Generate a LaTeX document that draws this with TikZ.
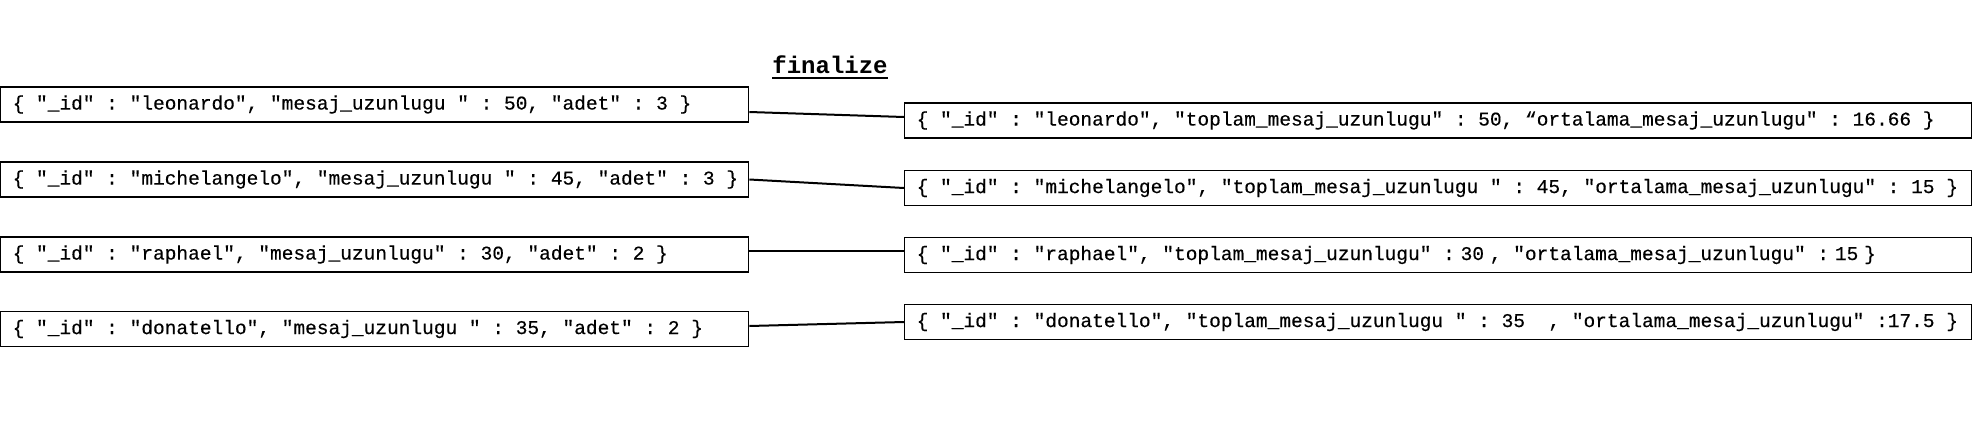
\documentclass[tikz,border=0pt]{standalone}
\usepackage{fontspec}
\newfontfamily\codefont{Liberation Mono}[FakeBold=0.35]
\newfontfamily\titlefont{Liberation Mono}
\newcommand\codesize{\fontsize{19.5}{23}\selectfont}
\newcommand\nsp{\hspace{5.8pt}}
\newcommand\ltxt[1]{\makebox[724pt][l]{#1}}
\newcommand\rtxt[1]{\makebox[1043pt][l]{#1}}
\frenchspacing
\begin{document}
\begin{tikzpicture}[x=1pt,y=-1pt,
  box/.style={draw, line width=1.3pt, minimum height=35pt, inner xsep=12pt, inner ysep=0pt,
    anchor=west, font=\codefont\codesize},
  lbox/.style={box},
  rbox/.style={box},
  link/.style={line width=2pt},
  title/.style={font=\titlefont\bfseries\fontsize{24}{28}\selectfont, inner sep=0pt, anchor=base}]
\useasboundingbox (0,0) rectangle (1972,431);

\node[title] (t) at (830,73) {finalize};
\draw[line width=2.2pt] ([yshift=-5pt]t.base west) -- ([yshift=-5pt]t.base east);

\node[lbox] (L1) at (0,104.5) {\ltxt{\{ "\_id" : "leonardo", "mesaj\_uzunlugu " : 50, "adet" : 3 \}}};
\node[lbox] (L2) at (0,179.5) {\ltxt{\{ "\_id" : "michelangelo", "mesaj\_uzunlugu " : 45, "adet" : 3 \}}};
\node[lbox] (L3) at (0,254.5) {\ltxt{\{ "\_id" : "raphael", "mesaj\_uzunlugu" : 30, "adet" : 2 \}}};
\node[lbox] (L4) at (0,329) {\ltxt{\{ "\_id" : "donatello", "mesaj\_uzunlugu " : 35, "adet" : 2 \}}};

\node[rbox] (R1) at (904,120.5) {\rtxt{\{ "\_id" : "leonardo", "toplam\_mesaj\_uzunlugu" : 50, “ortalama\_mesaj\_uzunlugu" : 16.66 \}}};
\node[rbox] (R2) at (904,188) {\rtxt{\{ "\_id" : "michelangelo", "toplam\_mesaj\_uzunlugu " : 45, "ortalama\_mesaj\_uzunlugu" : 15 \}}};
\node[rbox] (R3) at (904,255) {\rtxt{\{ "\_id" : "raphael", "toplam\_mesaj\_uzunlugu" :\nsp30\nsp, "ortalama\_mesaj\_uzunlugu" :\nsp15\nsp\}}};
\node[rbox] (R4) at (904,322) {\rtxt{\{ "\_id" : "donatello", "toplam\_mesaj\_uzunlugu " : 35\ \ , "ortalama\_mesaj\_uzunlugu" :17.5 \}}};

\draw[link] ([yshift=-7.5pt]L1.east) -- ([yshift=3.5pt]R1.west);
\draw[link] (L2.east) -- (R2.west);
\draw[link] ([yshift=3.5pt]L3.east) -- ([yshift=4pt]R3.west);
\draw[link] ([yshift=3pt]L4.east) -- (R4.west);
\end{tikzpicture}
\end{document}
